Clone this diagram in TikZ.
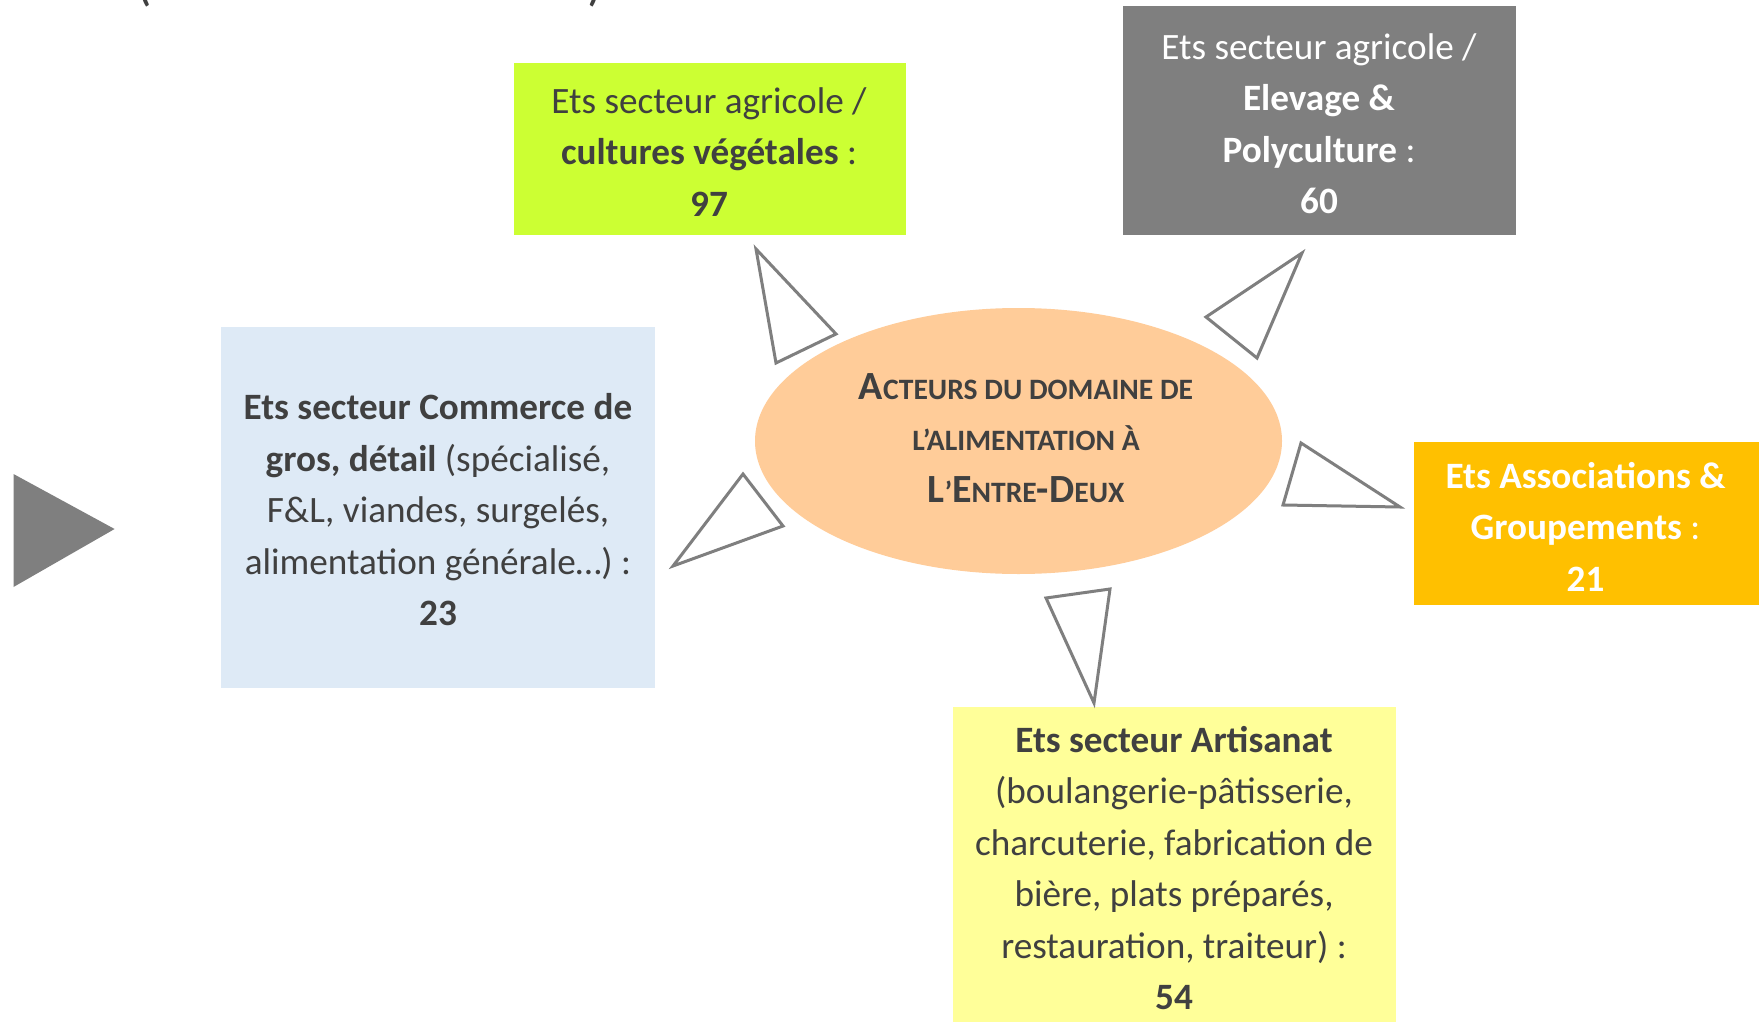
\documentclass[tikz,border=0pt]{standalone}
\usepackage{fontspec}
\setmainfont{Carlito}
\usetikzlibrary{shapes.geometric}
\definecolor{txt}{HTML}{404040}
\definecolor{grayline}{HTML}{7F7F7F}
\definecolor{lime}{HTML}{CCFF33}
\definecolor{darkbox}{HTML}{7F7F7F}
\definecolor{bluebox}{HTML}{DEEAF6}
\definecolor{orangebox}{HTML}{FFC000}
\definecolor{yellowbox}{HTML}{FFFF99}
\definecolor{peach}{HTML}{FFCC99}
\newcommand\smc[1]{{\fontsize{14.8}{25.75}\selectfont #1}}
\begin{document}
\begin{tikzpicture}[x=0.5pt,y=-0.5pt,
  boxtext/.style={align=center, font=\fontsize{18.6}{25.75}\selectfont, text=txt, inner sep=0pt},
  panel/.style={rectangle, inner sep=0pt, draw=none},
  tri/.style={draw=grayline, line width=1.5pt, line join=miter, fill=white}]
\useasboundingbox (0,0) rectangle (1762,1022);
\fill[white] (0,0) rectangle (1762,1022);

% clipped title remains
\node[anchor=base, font=\fontsize{18.6}{25.75}\selectfont\bfseries, text=txt, inner sep=0pt] (lpar) at (145,2) {(};
\node[anchor=base, font=\fontsize{18.6}{25.75}\selectfont\bfseries, text=txt, inner sep=0pt] (rpar) at (594,2) {)};

% boxes
\node[panel, fill=lime, minimum width=196.1pt, minimum height=86pt] (green) at (709.6,149) {};
\node[panel, fill=darkbox, minimum width=196.65pt, minimum height=114.7pt] (gray) at (1319.25,120.3) {};
\node[panel, fill=bluebox, minimum width=217pt, minimum height=180.5pt] (blue) at (438,507.5) {};
\node[panel, fill=orangebox, minimum width=172.5pt, minimum height=81.5pt] (orange) at (1586.1,523.1) {};
\node[panel, fill=yellowbox, minimum width=221.3pt, minimum height=166.6pt] (yellow) at (1174.3,873.4) {};

% texts
\node[boxtext] (greent) at (709,151.7) {Ets secteur agricole /\\\textbf{cultures végétales} :\\\textbf{97}};
\node[boxtext, text=white] (grayt) at (1319,123.6) {Ets secteur agricole /\\\textbf{Elevage \&}\\\textbf{Polyculture} :\\\textbf{60}};
\node[boxtext] (bluet) at (438,509.6) {\textbf{Ets secteur Commerce de}\\\textbf{gros, détail} (spécialisé,\\F\&L, viandes, surgelés,\\alimentation générale…) :\\\textbf{23}};
\node[boxtext, text=white] (oranget) at (1585.5,526.5) {\textbf{Ets Associations \&}\\\textbf{Groupements} :\\\textbf{21}};
\node[boxtext] (yellowt) at (1174,868) {\textbf{Ets secteur Artisanat}\\(boulangerie-pâtisserie,\\charcuterie, fabrication de\\bière, plats préparés,\\restauration, traiteur) :\\\textbf{54}};

% central ellipse
\node[ellipse, fill=peach, inner sep=0pt, minimum width=263.5pt, minimum height=133pt] (center) at (1018.5,441) {};
\node[boxtext, font=\fontsize{20}{25.75}\selectfont\bfseries] (centert) at (1026,437.7)
  {A\smc{CTEURS DU DOMAINE DE}\\\smc{L’ALIMENTATION À}\\L\smc{’}E\smc{NTRE}-D\smc{EUX}};

% outline triangles
\draw[tri] (756,249) -- (836,334) -- (776,363) -- cycle;
\draw[tri] (1302,253) -- (1206,317) -- (1257,358) -- cycle;
\draw[tri] (1301,443) -- (1400,507) -- (1283,505) -- cycle;
\draw[tri] (1046,598) -- (1110,589) -- (1094,703) -- cycle;
\draw[tri] (743,474) -- (783,526) -- (673,566) -- cycle;

% filled pointer
\fill[darkbox] (13.5,474) -- (114.6,529) -- (13.5,587) -- cycle;
\end{tikzpicture}
\end{document}
